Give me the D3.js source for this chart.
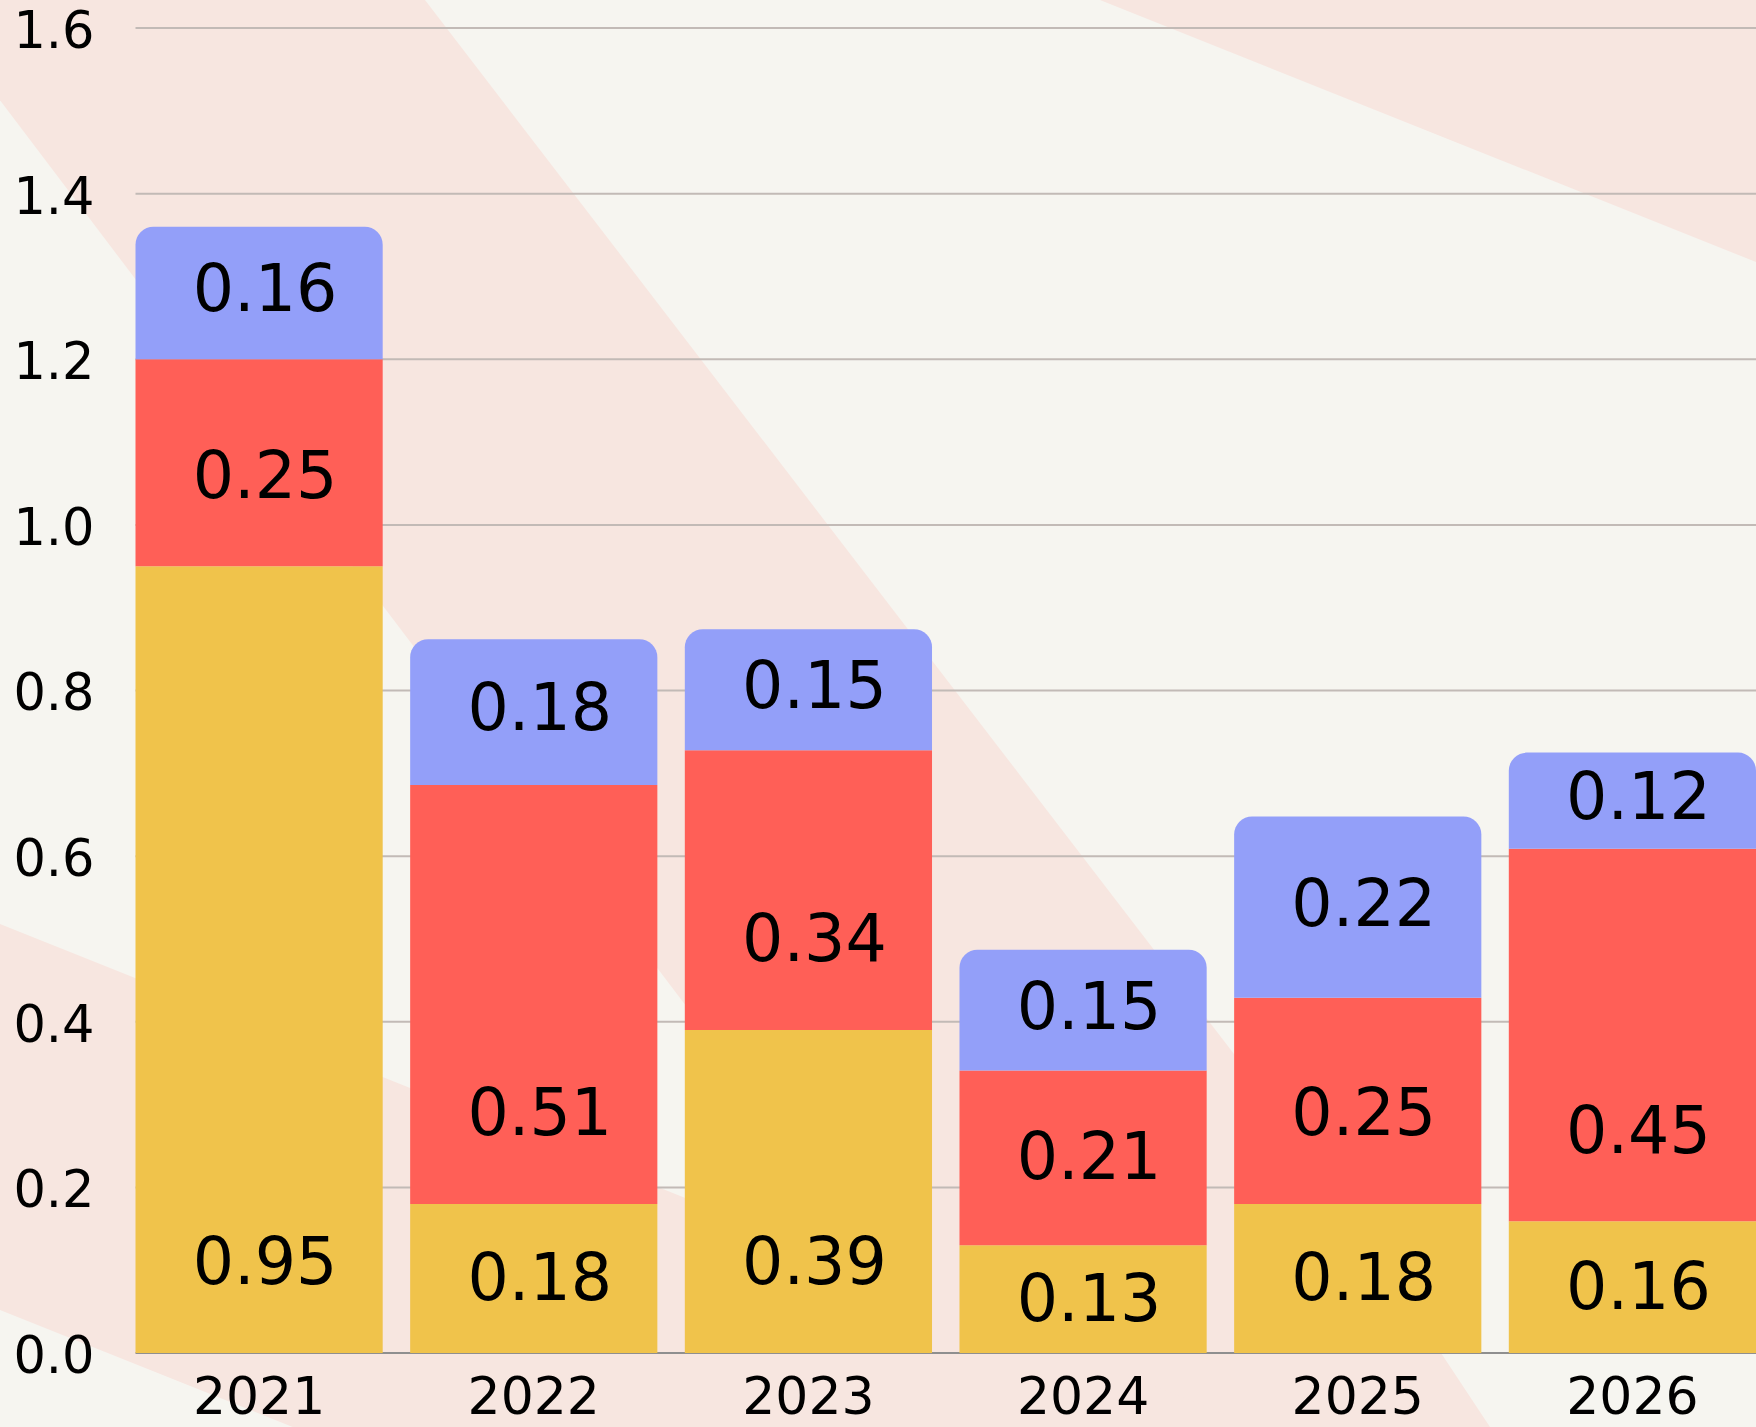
<!DOCTYPE html>
<html>
<head>
<meta charset="utf-8">
<script src="https://cdn.jsdelivr.net/npm/d3@7"></script>
<style>
  body { margin: 0; background: #f6f5f0; }
  svg { display: block; font-family: "DejaVu Sans", Verdana, sans-serif; }
</style>
</head>
<body>
<svg id="chart"></svg>
<script>
// data
var years = ["2021", "2022", "2023", "2024", "2025", "2026"];
var yellowVals = [0.95, 0.18, 0.39, 0.13, 0.18, 0.159];
var redVals = [0.25, 0.506, 0.338, 0.211, 0.249, 0.45];
var blueVals = [0.16, 0.176, 0.146, 0.146, 0.219, 0.116];
var seriesKeys = ["yellow", "red", "blue"];
var seriesColors = ["#f0c34b", "#ff5f57", "#939ff9"];
var yTicks = [0, 0.2, 0.4, 0.6, 0.8, 1.0, 1.2, 1.4, 1.6];

function drawChart() {
    var width = 1756,
        height = 1427,
        left = 135.5,
        top = 28,
        bottom = 1353;

    var svg = d3.select("#chart")
        .attr("width", width)
        .attr("height", height);

    // background bands
    var pink = "#f7e6e0";
    var bands = [
        [[-76, 0], [425, 0], [1300, 1140], [1490, 1427], [1005, 1427]],
        [[0, 924], [1756, 1626], [1756, 2012], [0, 1310]],
        [[1100, 0], [1756, 0], [1756, 262]]
    ];
    svg.append("rect").attr("width", width).attr("height", height).attr("fill", "#f6f5f0");
    svg.selectAll("polygon.band")
        .data(bands)
        .enter().append("polygon")
        .attr("class", "band")
        .attr("points", function (d) { return d.map(function (p) { return p.join(","); }).join(" "); })
        .attr("fill", pink);

    // build table for the stack
    var table = years.map(function (yr, i) {
        return { year: yr, yellow: yellowVals[i], red: redVals[i], blue: blueVals[i] };
    });
    var stacked = d3.stack().keys(seriesKeys)(table);

    var x = d3.scaleBand()
        .domain(years)
        .range([left, width])
        .paddingInner(0.1)
        .paddingOuter(0);

    var y = d3.scaleLinear()
        .domain([0, 1.6])
        .range([bottom, top]);

    // gridlines
    svg.append("g")
        .selectAll("line")
        .data(yTicks.slice(1))
        .enter().append("line")
        .attr("x1", left)
        .attr("x2", width)
        .attr("y1", function (d) { return y(d); })
        .attr("y2", function (d) { return y(d); })
        .attr("stroke", "#c2bab6")
        .attr("stroke-width", 2);

    svg.append("line")
        .attr("x1", left).attr("x2", width)
        .attr("y1", y(0)).attr("y2", y(0))
        .attr("stroke", "#8f8f8f")
        .attr("stroke-width", 2);

    function roundTop(x0, y0, w, h, r) {
        var p = d3.path();
        p.moveTo(x0, y0 + h);
        p.lineTo(x0, y0 + r);
        p.arcTo(x0, y0, x0 + r, y0, r);
        p.lineTo(x0 + w - r, y0);
        p.arcTo(x0 + w, y0, x0 + w, y0 + r, r);
        p.lineTo(x0 + w, y0 + h);
        p.closePath();
        return p.toString();
    }

    var fmt = d3.format(".2f");

    stacked.forEach(function (layer, li) {
        var g = svg.append("g").attr("class", "layer-" + layer.key);
        var isTop = li === stacked.length - 1;
        g.selectAll("path")
            .data(layer)
            .enter().append("path")
            .attr("d", function (d) {
                var x0 = x(d.data.year), y0 = y(d[1]), h = y(d[0]) - y(d[1]);
                return roundTop(x0, y0, x.bandwidth(), h, isTop ? 18 : 0);
            })
            .attr("fill", seriesColors[li]);

        g.selectAll("text")
            .data(layer)
            .enter().append("text")
            .attr("x", function (d) { return x(d.data.year) + x.bandwidth() / 2 + 6; })
            .attr("y", function (d) {
                var b = y(d[0]), h = y(d[0]) - y(d[1]);
                return b - Math.min(h / 2, 90) - (isTop ? 5 : 2);
            })
            .attr("text-anchor", "middle")
            .attr("dy", "0.36em")
            .attr("font-size", 65)
            .attr("fill", "#000")
            .text(function (d) { return fmt(d[1] - d[0]); });
    });

    // axes
    var xAxis = svg.append("g")
        .attr("transform", "translate(0," + bottom + ")")
        .call(d3.axisBottom(x).tickSize(0).tickPadding(24));
    xAxis.select(".domain").remove();
    xAxis.selectAll("text")
        .attr("font-size", 52)
        .attr("font-family", "DejaVu Sans, Verdana, sans-serif")
        .attr("fill", "#000");

    var yAxis = svg.append("g")
        .attr("transform", "translate(" + left + ",0)")
        .call(d3.axisLeft(y).tickValues(yTicks).tickFormat(d3.format(".1f")).tickSize(0).tickPadding(41));
    yAxis.select(".domain").remove();
    yAxis.selectAll("text")
        .attr("font-size", 51)
        .attr("dy", "0.38em")
        .attr("font-family", "DejaVu Sans, Verdana, sans-serif")
        .attr("fill", "#000");
}

drawChart();
</script>
</body>
</html>
